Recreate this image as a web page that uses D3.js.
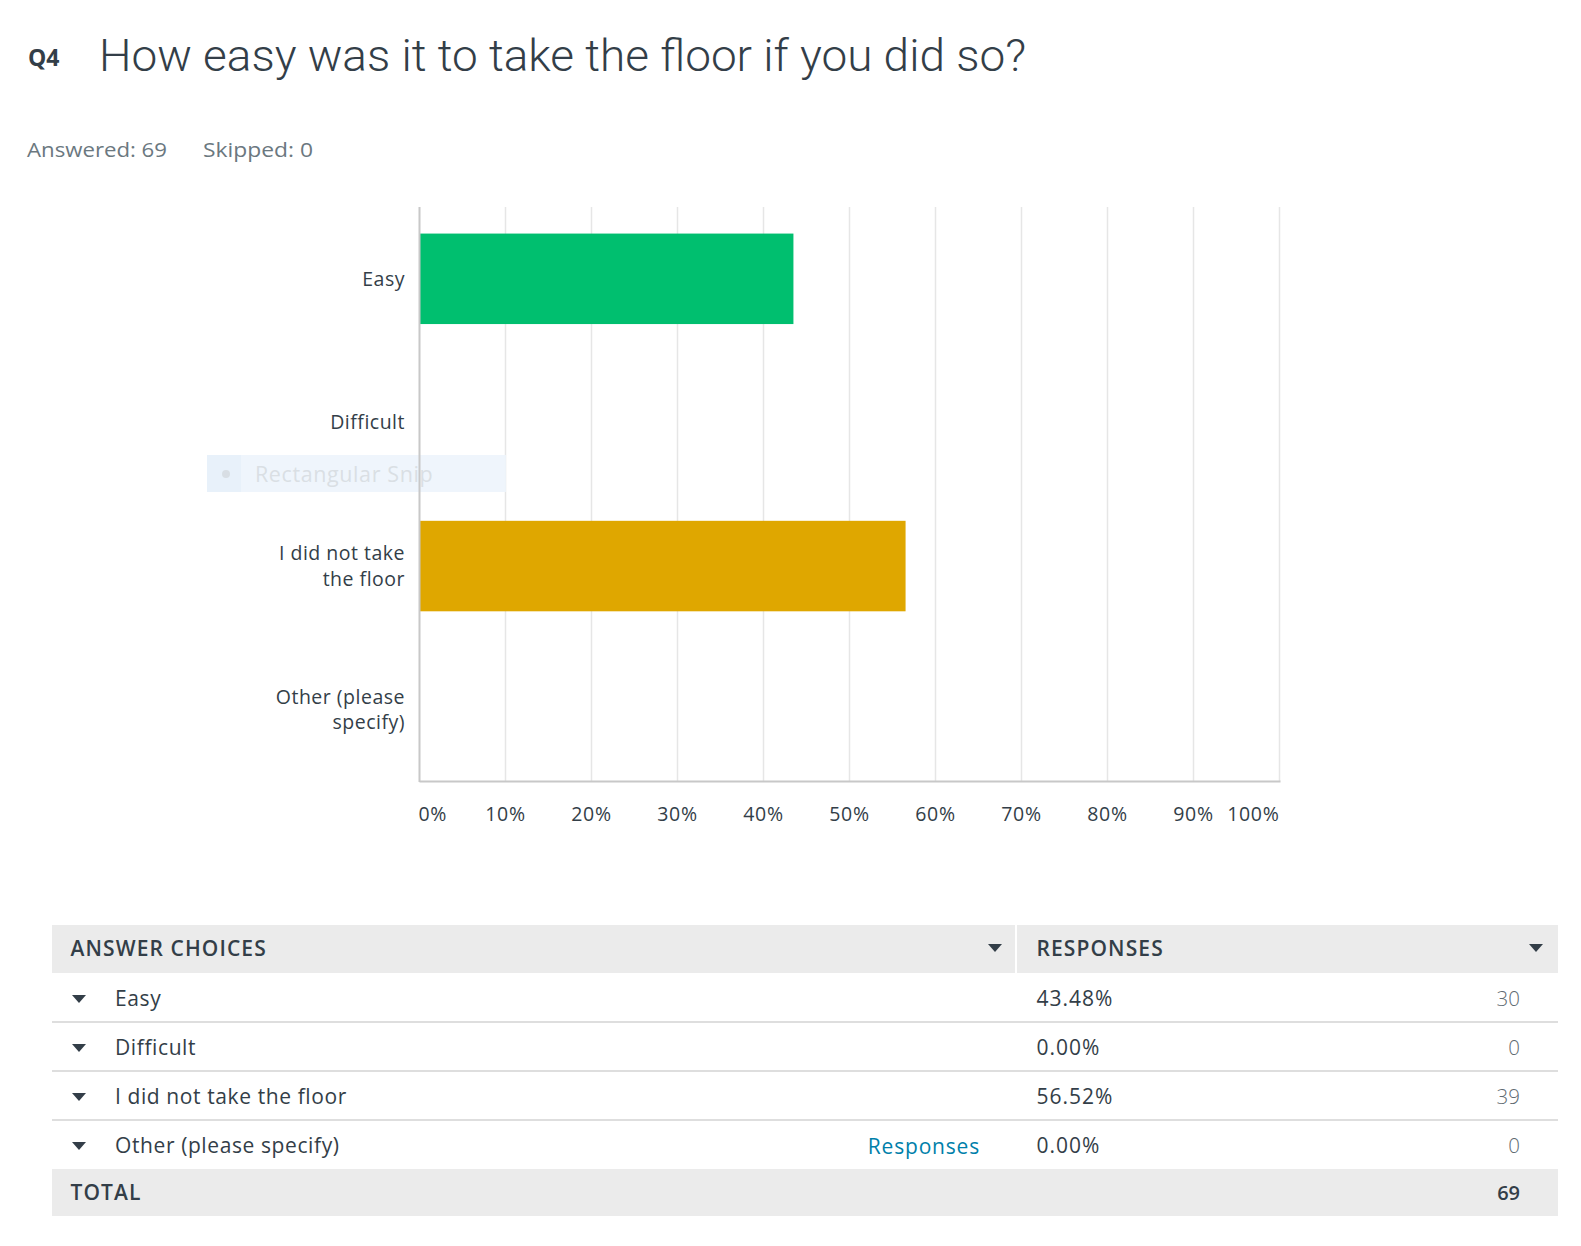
<!DOCTYPE html>
<html>
<head>
<meta charset="utf-8">
<script src="https://cdnjs.cloudflare.com/ajax/libs/d3/7.8.5/d3.min.js"></script>
<style>
  body { margin: 0; background: #fff; }
  svg { display: block; font-family: "Open Sans", "Noto Sans", sans-serif; }
</style>
</head>
<body>
<div id="chart"></div>
<script>
// survey data
var categories = ["Easy", "Difficult", "I did not take the floor", "Other (please specify)"]
var axisLabels = [["Easy"], ["Difficult"], ["I did not take", "the floor"], ["Other (please", "specify)"]]
var percents = [0.4348, 0, 0.5652, 0]
var counts = [30, 0, 39, 0]
var barColors = ["#00bf6f", "#00bf6f", "#dfa700", "#dfa700"]
var tickLabels = ["0%", "10%", "20%", "30%", "40%", "50%", "60%", "70%", "80%", "90%", "100%"]
var answered = 69
var skipped = 0

var width = 1581
var height = 1246
var textColor = "#333e48"
var greyText = "#6b787f"

var svg = d3.select("#chart").append("svg")
    .attr("width", width)
    .attr("height", height)

// header
svg.append("text")
    .attr("x", 28).attr("y", 66)
    .attr("font-size", 23).attr("font-weight", 700)
    .attr("fill", textColor)
    .text("Q4")

svg.append("text")
    .attr("x", 99).attr("y", 71)
    .attr("font-family", "Roboto")
    .attr("font-size", 45).attr("font-weight", 300)
    .attr("fill", textColor)
    .attr("textLength", 927).attr("lengthAdjust", "spacingAndGlyphs")
    .text("How easy was it to take the floor if you did so?")

svg.append("text")
    .attr("x", 27).attr("y", 157)
    .attr("font-size", 20).attr("fill", greyText)
    .attr("textLength", 140).attr("lengthAdjust", "spacingAndGlyphs")
    .text("Answered: " + answered)
svg.append("text")
    .attr("x", 203).attr("y", 157)
    .attr("font-size", 20).attr("fill", greyText)
    .attr("textLength", 110).attr("lengthAdjust", "spacingAndGlyphs")
    .text("Skipped: " + skipped)

// chart
var x = d3.scaleLinear().domain([0, 1]).range([419.5, 1279.5])
var y = d3.scaleBand().domain(categories).range([207, 781.5])
    .paddingInner(0.37).paddingOuter(0.185)

var xTicks = x.ticks(10)

svg.append("g")
    .selectAll("line")
    .data(xTicks.slice(1))
    .enter().append("line")
    .attr("x1", function (d) { return x(d) }).attr("x2", function (d) { return x(d) })
    .attr("y1", 207).attr("y2", 781.5)
    .attr("stroke", "#e6e6e6").attr("stroke-width", 1.5)

// the faint screen-snip overlay sitting on the picture
var snip = svg.append("g").attr("opacity", 0.9)
snip.append("rect")
    .attr("x", 207).attr("y", 455).attr("width", 299).attr("height", 37)
    .attr("fill", "#eef5fc")
snip.append("rect")
    .attr("x", 207).attr("y", 455).attr("width", 34).attr("height", 37)
    .attr("fill", "#e6f0fa")
snip.append("circle")
    .attr("cx", 226).attr("cy", 474).attr("r", 4)
    .attr("fill", "#d4dbe2")
snip.append("text")
    .attr("x", 255).attr("y", 482)
    .attr("font-size", 21.5).attr("letter-spacing", 0.6).attr("fill", "#d6dce2")
    .text("Rectangular Snip")

svg.append("g")
    .selectAll("rect")
    .data(percents)
    .enter().append("rect")
    .attr("x", x(0))
    .attr("y", function (d, i) { return y(categories[i]) })
    .attr("width", function (d) { return x(d) - x(0) })
    .attr("height", y.bandwidth())
    .attr("fill", function (d, i) { return barColors[i] })

// axis lines
svg.append("line")
    .attr("x1", x(0)).attr("x2", x(0)).attr("y1", 207).attr("y2", 782)
    .attr("stroke", "#c8c8c8").attr("stroke-width", 2)
svg.append("line")
    .attr("x1", x(0)).attr("x2", x(1) + 1).attr("y1", 781.5).attr("y2", 781.5)
    .attr("stroke", "#c8c8c8").attr("stroke-width", 2)

// category labels
var catG = svg.append("g")
    .selectAll("text")
    .data(axisLabels)
    .enter().append("text")
    .attr("text-anchor", "end")
    .attr("font-size", 19.5)
    .attr("letter-spacing", 0.5)
    .attr("fill", textColor)
    .attr("y", function (d, i) {
        return y(categories[i]) + y.bandwidth() / 2 + 7 - (d.length - 1) * 12.6
    })
catG.selectAll("tspan")
    .data(function (d) { return d })
    .enter().append("tspan")
    .attr("x", 405)
    .attr("dy", function (d, i) { return i == 0 ? 0 : 25.2 })
    .text(function (d) { return d })

// tick labels
svg.append("g")
    .selectAll("text")
    .data(xTicks)
    .enter().append("text")
    .attr("x", function (d, i) {
        if (i == 0) return x(d) - 1
        return x(d)
    })
    .attr("y", 821)
    .attr("text-anchor", function (d, i) {
        if (i == 0) return "start"
        if (i == xTicks.length - 1) return "end"
        return "middle"
    })
    .attr("font-size", 19.5)
    .attr("letter-spacing", 0.7)
    .attr("fill", textColor)
    .text(function (d, i) { return tickLabels[i] })

// table
var tLeft = 52, tRight = 1558, colSplit = 1016
var headTop = 925, headH = 48
var rowTop = 973, rowH = 49

svg.append("rect")
    .attr("x", tLeft).attr("y", headTop).attr("width", tRight - tLeft).attr("height", headH)
    .attr("fill", "#ebebeb")
svg.append("line")
    .attr("x1", colSplit).attr("x2", colSplit).attr("y1", headTop).attr("y2", headTop + headH)
    .attr("stroke", "#fff").attr("stroke-width", 2)

function triangle(cx, cy) {
    return "M" + (cx - 7) + "," + (cy - 4) + "L" + (cx + 7) + "," + (cy - 4) + "L" + cx + "," + (cy + 4) + "Z"
}

svg.append("text")
    .attr("x", 70.5).attr("y", headTop + 31)
    .attr("font-size", 21).attr("font-weight", 600).attr("letter-spacing", 1.1).attr("fill", textColor)
    .text("ANSWER CHOICES")
svg.append("path").attr("d", triangle(995, headTop + 23)).attr("fill", textColor)
svg.append("text")
    .attr("x", 1036.5).attr("y", headTop + 31)
    .attr("font-size", 21).attr("font-weight", 600).attr("letter-spacing", 1.1).attr("fill", textColor)
    .text("RESPONSES")
svg.append("path").attr("d", triangle(1536, headTop + 23)).attr("fill", textColor)

var rows = svg.append("g")
    .selectAll("g")
    .data(categories)
    .enter().append("g")
    .attr("transform", function (d, i) { return "translate(0," + (rowTop + i * rowH) + ")" })

rows.append("line")
    .attr("x1", tLeft).attr("x2", tRight).attr("y1", rowH).attr("y2", rowH)
    .attr("stroke", "#d3d3d3").attr("stroke-width", 1.5)
    .attr("opacity", function (d, i) { return i == categories.length - 1 ? 0 : 1 })
rows.append("path")
    .attr("d", triangle(79, 26))
    .attr("fill", textColor)
rows.append("text")
    .attr("x", 115).attr("y", 33)
    .attr("font-size", 21).attr("letter-spacing", 0.6).attr("fill", textColor)
    .text(function (d) { return d })
rows.append("text")
    .attr("x", 1036.5).attr("y", 33)
    .attr("font-size", 21).attr("letter-spacing", 1).attr("fill", textColor)
    .text(function (d, i) { return d3.format(".2%")(percents[i]) })
rows.append("text")
    .attr("x", 1520).attr("y", 33)
    .attr("text-anchor", "end")
    .attr("font-size", 20.5).attr("font-weight", 300).attr("fill", "#5f6b72")
    .text(function (d, i) { return counts[i] })
rows.filter(function (d, i) { return i == categories.length - 1 })
    .append("text")
    .attr("x", 980).attr("y", 34)
    .attr("text-anchor", "end")
    .attr("font-size", 21).attr("letter-spacing", 0.8).attr("fill", "#007faa")
    .text("Responses")

var totTop = rowTop + categories.length * rowH
svg.append("rect")
    .attr("x", tLeft).attr("y", totTop).attr("width", tRight - tLeft).attr("height", 47)
    .attr("fill", "#ebebeb")
svg.append("text")
    .attr("x", 70.5).attr("y", totTop + 31)
    .attr("font-size", 21).attr("font-weight", 600).attr("letter-spacing", 1.1).attr("fill", textColor)
    .text("TOTAL")
svg.append("text")
    .attr("x", 1520).attr("y", totTop + 31)
    .attr("text-anchor", "end")
    .attr("font-size", 20).attr("font-weight", 600).attr("fill", textColor)
    .text(d3.sum(counts))
</script>
</body>
</html>
